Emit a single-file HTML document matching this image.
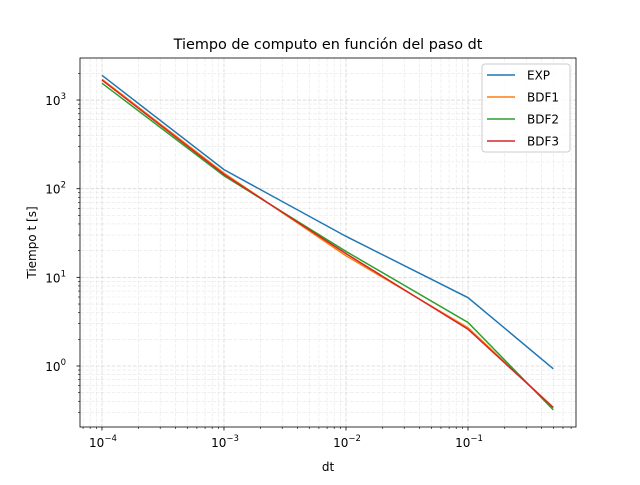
<!DOCTYPE html>
<html><head><meta charset="utf-8"><style>
body{margin:0;background:#fff;}
svg text{font-family:"DejaVu Sans","Liberation Sans",sans-serif;fill:#000;}
</style></head><body>
<svg id="chart" width="640" height="480" xmlns="http://www.w3.org/2000/svg"></svg>
<script>
const dtValues = [1e-4, 1e-3, 1e-2, 1e-1, 0.5];
const seriesNames = ["EXP", "BDF1", "BDF2", "BDF3"];
const expValues = [1900, 164, 29, 5.9, 0.93];
const bdf1Values = [1720, 150, 17.5, 2.7, 0.34];
const bdf2Values = [1550, 140, 19.6, 3.1, 0.32];
const bdf3Values = [1680, 145, 18.5, 2.6, 0.34];
const xTickExps = [-4, -3, -2, -1];
const yTickExps = [0, 1, 2, 3];
const colors = ["#1f77b4", "#ff7f0e", "#2ca02c", "#d62728"];
const allSeries = [expValues, bdf1Values, bdf2Values, bdf3Values];

const L = 80, R = 576, T = 58, B = 427;
const xMin = -4.18, xMax = -0.115, yMin = Math.log10(0.205), yMax = Math.log10(2980);
const X = v => L + (Math.log10(v) - xMin) / (xMax - xMin) * (R - L);
const Y = v => B - (Math.log10(v) - yMin) / (yMax - yMin) * (B - T);
const svg = document.getElementById('chart');
const NS = "http://www.w3.org/2000/svg";
function mk(tag, attrs, parent) {
  const e = document.createElementNS(NS, tag);
  for (const k in attrs) e.setAttribute(k, attrs[k]);
  (parent || svg).appendChild(e);
  return e;
}
const grid = mk('g', {});


for (let d = -5; d <= 0; d++) for (let m = 1; m < 10; m++) {
  const v = m * Math.pow(10, d), x = X(v);
  if (x < L || x > R) continue;
  mk('line', {x1: x, x2: x, y1: T, y2: B, stroke: '#b0b0b0', 'stroke-opacity': m === 1 ? 0.5 : 0.3, 'stroke-dasharray': '3.7,1.6', 'stroke-width': m === 1 ? 0.8 : 0.6}, grid);
}
for (let d = -1; d <= 3; d++) for (let m = 1; m < 10; m++) {
  const v = m * Math.pow(10, d), y = Y(v);
  if (y < T || y > B) continue;
  mk('line', {x1: L, x2: R, y1: y, y2: y, stroke: '#b0b0b0', 'stroke-opacity': m === 1 ? 0.5 : 0.3, 'stroke-dasharray': '3.7,1.6', 'stroke-width': m === 1 ? 0.8 : 0.6}, grid);
}
allSeries.forEach((s, i) => {
  const p = mk('polyline', {points: s.map((v, j) => X(dtValues[j]) + ',' + Y(v)).join(' '), fill: 'none', stroke: colors[i], 'stroke-width': 1.5});
  
  
});
const frame = mk('rect', {x: L, y: T, width: R - L, height: B - T, fill: 'none', stroke: '#000', 'stroke-width': 0.8});


for (let d = -5; d <= 0; d++) for (let m = 1; m < 10; m++) {
  const x = X(m * Math.pow(10, d));
  if (x < L || x > R) continue;
  mk('line', {x1: x, x2: x, y1: B, y2: B + (m === 1 ? 3.5 : 2), stroke: '#000', 'stroke-width': m === 1 ? 0.8 : 0.6});
}
for (let d = -1; d <= 3; d++) for (let m = 1; m < 10; m++) {
  const y = Y(m * Math.pow(10, d));
  if (y < T || y > B) continue;
  mk('line', {x1: L, x2: L - (m === 1 ? 3.5 : 2), y1: y, y2: y, stroke: '#000', 'stroke-width': m === 1 ? 0.8 : 0.6});
}
xTickExps.forEach(e => {
  const t = mk('text', {x: X(Math.pow(10, e)) + 1, y: B + 20, 'text-anchor': 'middle', 'font-size': 12});
  
  
  t.innerHTML = '10<tspan dy="-6" font-size="8.5">−' + Math.abs(e) + '</tspan>';
});
yTickExps.forEach(e => {
  const t = mk('text', {x: L - 14, y: Y(Math.pow(10, e)) + 5, 'text-anchor': 'end', 'font-size': 12});
  
  
  t.innerHTML = '10<tspan dy="-6" font-size="8.5">' + e + '</tspan>';
});
const title = mk('text', {x: (L + R) / 2, y: 49, 'text-anchor': 'middle', 'font-size': 14.4});


title.textContent = 'Tiempo de computo en función del paso dt';
const xl = mk('text', {x: (L + R) / 2, y: 471, 'text-anchor': 'middle', 'font-size': 12});


xl.textContent = 'dt';
const yl = mk('text', {x: 36, y: (T + B) / 2, 'text-anchor': 'middle', 'font-size': 12, transform: 'rotate(-90 36 ' + (T + B) / 2 + ')'});


yl.textContent = 'Tiempo t [s]';
const lg = mk('g', {});


mk('rect', {x: 482, y: 64, width: 88, height: 88, rx: 3, fill: '#fff', 'fill-opacity': 0.8, stroke: '#ccc'}, lg);
seriesNames.forEach((n, i) => {
  const y = 75 + i * 22;
  const ge = mk('g', {}, lg);
  
  
  mk('line', {x1: 487, x2: 515, y1: y, y2: y, stroke: colors[i], 'stroke-width': 1.5}, ge);
  const t = mk('text', {x: 527, y: y + 4.5, 'font-size': 12}, ge);
  t.textContent = n;
});
</script>
</body></html>
